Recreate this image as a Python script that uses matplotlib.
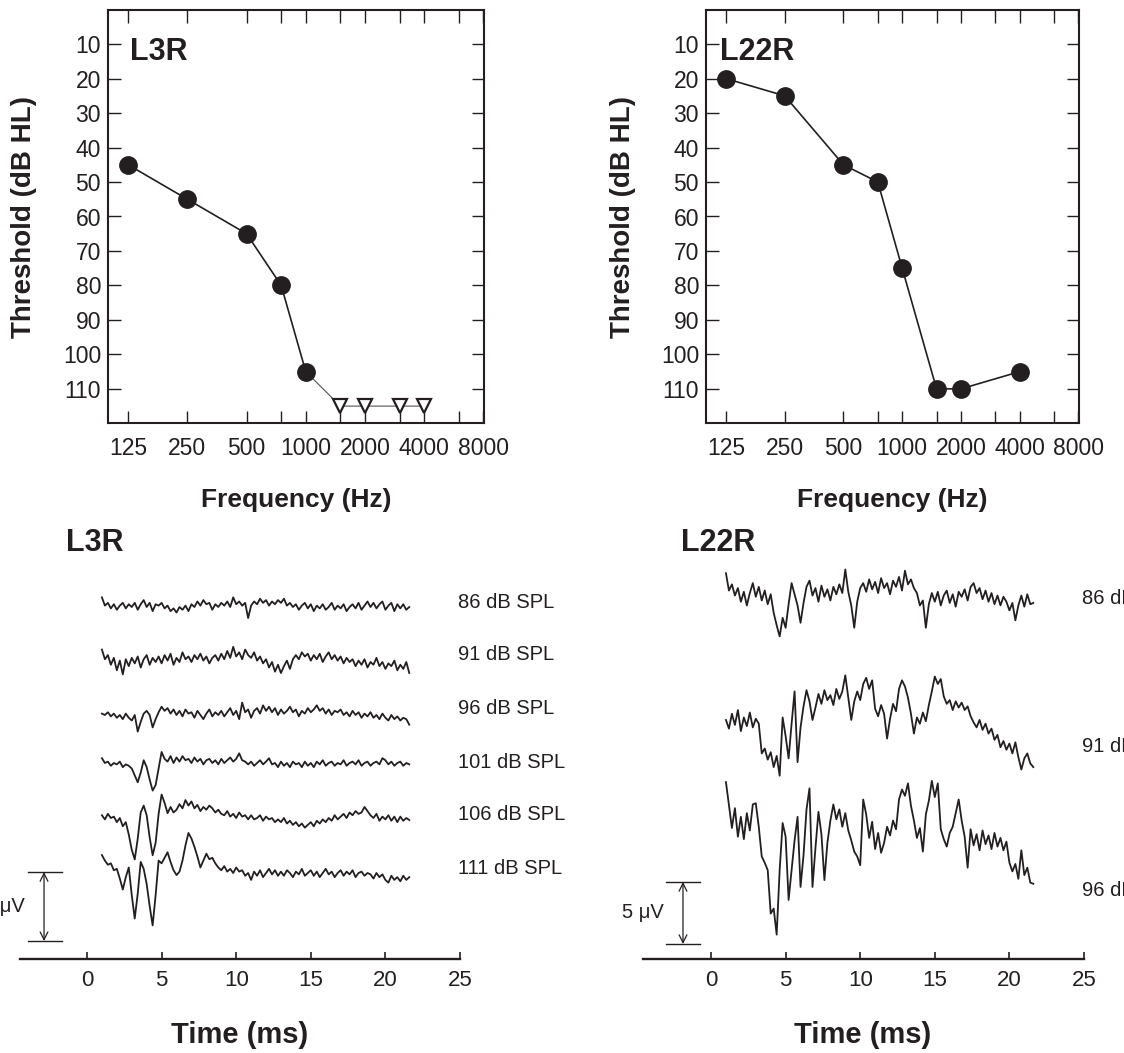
import numpy as np
import matplotlib
matplotlib.use("Agg")
import matplotlib.pyplot as plt
from matplotlib.ticker import FixedLocator, NullFormatter

plt.rcParams['font.family'] = ['Liberation Sans', 'DejaVu Sans']
INK = '#231f20'

# ---- audiogram data ----
freq_ticks = [125, 250, 500, 1000, 2000, 4000, 8000]
freq_minor = [750, 1500, 3000, 6000]
db_ticks = [10, 20, 30, 40, 50, 60, 70, 80, 90, 100, 110]

l3r_freq = [125, 250, 500, 750, 1000]
l3r_thr = [45, 55, 65, 80, 105]
l3r_nr_freq = [1500, 2000, 3000, 4000]   # no response at limit
l3r_nr_thr = [115, 115, 115, 115]

l22r_freq = [125, 250, 500, 750, 1000, 1500, 2000, 4000]
l22r_thr = [20, 25, 45, 50, 75, 110, 110, 105]

# ---- ABR traces (uV, 1.0 .. 21.6 ms, 0.2 ms steps) ----
l3r_labels = ['86 dB SPL', '91 dB SPL', '96 dB SPL', '101 dB SPL', '106 dB SPL', '111 dB SPL']
l3r_86 = [0.7, 0.1, 0.3, -0.1, 0.2, -0.2, 0.1, 0.3, -0.1, 0.2,
          0.0, 0.3, -0.2, 0.2, 0.5, 0.0, 0.3, -0.3, 0.2, 0.1,
          0.3, -0.1, 0.1, -0.3, -0.1, -0.4, 0.0, -0.2, 0.1, -0.3,
          0.2, 0.0, 0.4, 0.1, 0.5, 0.2, 0.3, -0.2, 0.2, 0.0,
          0.3, 0.1, 0.4, 0.0, 0.7, 0.2, 0.4, 0.1, 0.3, -0.8,
          0.1, 0.4, 0.2, 0.6, 0.3, 0.5, 0.1, 0.4, 0.2, 0.5,
          0.3, 0.6, 0.1, 0.3, 0.0, 0.2, -0.2, 0.1, 0.3, -0.1,
          0.2, -0.3, 0.1, -0.1, 0.2, -0.2, 0.0, 0.3, -0.2, 0.1,
          -0.1, 0.2, -0.3, 0.0, 0.2, -0.1, 0.3, -0.2, 0.1, 0.4,
          0.0, 0.3, -0.1, 0.2, 0.4, -0.2, 0.1, 0.3, -0.3, 0.2,
          -0.1, 0.2, -0.2, 0.0]
l3r_91 = [0.9, 0.2, 0.5, -0.2, 0.3, -0.6, 0.1, -0.9, 0.2, -0.3,
          0.3, -0.1, 0.4, -0.4, 0.2, 0.5, -0.2, 0.3, 0.0, 0.4,
          -0.1, 0.5, 0.1, 0.6, -0.2, 0.3, 0.0, 0.7, 0.2, 0.4,
          0.0, 0.5, 0.2, 0.6, 0.1, 0.4, -0.1, 0.3, 0.5, 0.1,
          0.6, 0.2, 0.8, 0.3, 1.1, 0.4, 0.7, 0.2, 0.9, 0.5,
          0.3, 0.7, 0.1, 0.4, -0.1, 0.2, -0.4, 0.0, -0.7, -0.2,
          -0.8, -0.3, 0.1, -0.5, 0.2, 0.5, 0.2, 0.7, 0.4, 0.6,
          0.1, 0.5, 0.2, 0.6, 0.0, 0.4, 0.7, 0.2, 0.5, 0.1,
          0.4, -0.1, 0.3, 0.0, 0.2, -0.3, 0.1, -0.2, 0.2, -0.4,
          0.0, -0.2, 0.3, -0.3, 0.0, -0.5, -0.1, -0.3, 0.1, -0.6,
          -0.2, -0.5, 0.0, -0.8]
l3r_96 = [0.1, 0.0, 0.2, -0.1, 0.1, -0.2, 0.0, -0.3, 0.1, -0.2,
          -0.4, 0.0, -1.2, -0.5, 0.1, 0.3, 0.0, -0.9, -0.3, 0.2,
          0.6, 0.3, 0.5, 0.1, 0.4, 0.0, 0.3, -0.1, 0.4, 0.1,
          0.2, -0.2, 0.3, 0.0, -0.3, 0.1, 0.4, -0.1, 0.2, 0.0,
          0.3, -0.1, 0.2, 0.5, 0.0, 0.3, -0.3, 0.9, 0.2, 0.4,
          -0.2, 0.3, 0.5, 0.1, 0.7, 0.3, 0.6, 0.2, 0.5, 0.0,
          0.4, 0.1, 0.3, 0.6, 0.2, 0.4, -0.1, 0.3, 0.1, 0.5,
          0.2, 0.4, 0.7, 0.3, 0.5, 0.1, 0.4, 0.0, 0.3, 0.2,
          0.4, 0.0, 0.2, -0.1, 0.3, 0.0, 0.2, -0.2, 0.1, -0.1,
          0.2, -0.2, 0.0, -0.3, 0.1, -0.2, -0.4, 0.0, -0.3, -0.1,
          -0.4, -0.2, -0.3, -0.7]
l3r_101 = [0.35, 0.0, 0.1, -0.2, 0.0, -0.1, 0.1, -0.3, -0.1, -0.2,
           -0.4, -0.9, -1.4, -0.7, 0.2, -0.3, -1.2, -2.0, -1.6, -0.4,
           0.8, 0.3, 0.1, 0.5, 0.0, 0.4, 0.1, 0.5, 0.2, 0.3,
           0.0, 0.4, 0.1, 0.3, -0.1, 0.2, 0.3, 0.0, 0.2, -0.1,
           0.3, 0.0, 0.2, 0.4, 0.1, 0.3, 0.7, 0.2, 0.1, -0.1,
           0.1, -0.2, 0.0, 0.2, -0.1, 0.1, 0.35, -0.1, 0.0, -0.3,
           0.1, -0.2, 0.0, -0.3, 0.1, -0.1, 0.0, -0.3, 0.1, -0.2,
           0.0, -0.3, 0.1, -0.1, 0.2, -0.2, 0.0, 0.1, -0.2, 0.0,
           -0.1, 0.2, -0.2, 0.0, 0.1, -0.1, 0.2, -0.2, 0.0, 0.1,
           -0.2, 0.0, 0.1, -0.1, 0.35, 0.2, -0.1, 0.1, -0.2, 0.0,
           0.1, -0.2, 0.0, -0.1]
l3r_106 = [0.2, -0.1, 0.3, 0.0, 0.1, -0.3, 0.0, -0.6, -0.3, -1.2,
           -2.3, -3.0, -1.5, 0.4, 0.9, 0.2, -1.4, -2.7, -1.8, 0.3,
           1.7, 1.1, 0.35, 0.8, 0.4, 0.6, 1.0, 0.7, 1.3, 0.9,
           1.2, 0.7, 0.95, 0.5, 0.8, 0.6, 0.9, 0.7, 0.4, 0.6,
           0.3, 0.2, 0.5, 0.1, 0.3, 0.0, 0.4, 0.1, 0.2, -0.1,
           0.2, -0.1, 0.0, 0.2, -0.2, 0.1, -0.1, 0.0, -0.3, -0.1,
           -0.3, 0.0, -0.4, -0.2, -0.5, -0.3, -0.6, -0.4, -0.7, -0.5,
           -0.3, -0.6, -0.2, -0.4, -0.1, -0.3, 0.0, -0.2, 0.2, -0.1,
           0.1, 0.3, 0.0, 0.4, 0.2, 0.5, 0.3, 0.4, 0.8, 0.5,
           0.2, 0.0, 0.3, -0.2, 0.1, -0.1, 0.2, -0.2, 0.1, -0.3,
           0.1, -0.2, 0.0, -0.15]
l3r_111 = [1.3, 0.9, 0.6, 0.7, 0.2, 0.3, -0.4, -1.2, -0.3, 0.4,
           -1.6, -3.3, -1.5, 0.8, 0.3, -0.8, -2.4, -3.8, -1.6, 0.9,
           0.7, 1.1, 1.5, 0.8, 0.2, -0.15, 0.1, 0.9, 2.0, 2.9,
           2.5, 1.9, 1.2, 0.4, 0.9, 1.4, 1.0, 1.1, 0.7, 0.4,
           0.2, 0.5, 0.1, 0.3, 0.0, 0.4, 0.1, 0.2, -0.2, 0.0,
           -0.5, 0.1, -0.2, 0.2, -0.3, 0.0, 0.3, -0.1, 0.2, -0.2,
           0.1, -0.2, 0.2, 0.0, -0.3, 0.1, -0.1, 0.3, -0.2, 0.0,
           0.2, -0.2, 0.1, -0.3, 0.0, 0.3, -0.1, 0.1, -0.3, 0.0,
           0.2, -0.2, 0.1, -0.1, 0.2, -0.3, 0.0, 0.1, -0.2, 0.0,
           -0.1, -0.4, 0.0, -0.3, -0.1, -0.5, -0.7, -0.2, -0.5, -0.3,
           -0.6, -0.2, -0.5, -0.3]

l22r_labels = ['86 dB SPL', '91 dB SPL', '96 dB SPL']
l22r_86 = [2.0, 0.6, 1.1, 0.2, 0.8, -0.3, 0.5, -0.6, 0.4, 1.2,
           0.1, 0.9, -0.2, 0.6, -0.5, 0.3, -1.2, -2.2, -3.1, -1.6,
           -2.4, -0.5, 1.2, 0.3, -0.6, -2.0, -0.4, 0.9, 1.4, 0.2,
           0.8, -0.3, 1.0, 0.1, 0.7, -0.2, 0.9, 0.3, 1.1, 0.4,
           2.3, 0.5, -0.6, -2.4, -0.3, 0.8, 1.2, 0.5, 1.5, 0.7,
           1.3, 0.4, 1.6, 0.8, 1.2, 0.3, 1.4, 0.9, 1.7, 0.6,
           2.2, 1.1, 1.5, 0.8, 0.4, -0.6, -0.2, -2.4, -0.5, 0.4,
           -0.3, 0.5, -0.6, 0.2, 0.6, -0.4, 0.3, -0.7, 0.5, 0.1,
           0.7, -0.2, 0.9, 1.2, 0.4, 0.8, -0.1, 0.6, -0.3, 0.4,
           -0.5, 0.2, -0.6, 0.1, -0.3, -1.0, -0.4, -1.8, -0.6, 0.2,
           -0.7, 0.3, -0.5, -0.4]
l22r_91 = [2.1, 1.4, 2.6, 1.7, 2.9, 1.2, 2.3, 1.6, 2.7, 1.5,
           2.2, 1.8, -0.6, -0.2, -1.1, -0.5, -1.7, -0.8, -2.4, 2.3,
           0.8, -1.0, 1.8, 4.4, -1.3, 1.5, 3.2, 4.5, 3.6, 2.1,
           3.1, 4.2, 3.4, 4.5, 3.7, 4.1, 3.3, 4.6, 3.8, 4.4,
           5.7, 3.9, 2.1, 3.6, 4.4, 3.7, 5.0, 5.5, 4.6, 5.3,
           3.0, 2.4, 3.3, 2.6, 0.6, 2.2, 3.4, 2.8, 4.6, 5.3,
           4.8, 3.9, 2.6, 1.0, 2.3, 1.8, 2.7, 2.0, 3.3, 4.4,
           5.6, 5.0, 5.4, 4.0, 3.4, 3.7, 2.9, 3.6, 3.1, 3.5,
           2.9, 3.2, 2.4, 1.9, 1.5, 2.1, 1.3, 1.8, 1.0, 1.4,
           0.5, 0.9, -0.1, 0.4, -0.3, 0.2, -0.6, 0.3, -0.9, -1.9,
           -1.0, -0.6, -1.4, -1.7]
l22r_96 = [8.7, 6.85, 5.0, 6.6, 4.3, 5.9, 4.1, 6.2, 4.8, 6.9,
           7.0, 5.1, 2.7, 2.2, 1.6, -1.9, -1.5, -3.6, 1.6, 5.4,
           4.3, -0.8, 1.6, 4.0, 5.9, 0.25, 2.8, 6.5, 8.2, 0.25,
           3.4, 6.3, 4.5, 0.8, 3.8, 5.6, 6.9, 5.7, 6.5, 5.1,
           6.2, 4.8, 4.0, 3.1, 2.7, 2.0, 7.3, 6.1, 4.2, 5.5,
           3.3, 4.6, 3.0, 3.8, 5.1, 4.4, 5.6, 4.9, 7.3, 8.1,
           7.6, 8.6, 6.8, 5.6, 4.2, 5.0, 3.1, 6.1, 7.2, 8.8,
           7.5, 8.6, 4.9, 4.1, 3.5, 4.6, 5.1, 6.2, 7.3, 5.6,
           4.3, 1.8, 4.9, 3.6, 4.5, 3.2, 4.8, 3.7, 4.4, 3.3,
           4.6, 3.5, 4.2, 3.2, 3.9, 2.2, 1.5, 2.1, 0.9, 3.2,
           1.2, 1.8, 0.6, 0.5]

W, H = 1124, 1053
fig = plt.figure(figsize=(W / 100, H / 100), dpi=100)


def rect(x0, y0, x1, y1):
    # pixel box, origin top-left -> figure fraction
    return [x0 / W, 1 - y1 / H, (x1 - x0) / W, (y1 - y0) / H]


def ftext(x, y, s, **kw):
    fig.text(x / W, 1 - y / H, s, color=INK, **kw)


def audiogram(box, name, name_xy):
    ax = fig.add_axes(rect(*box))
    ax.set_xscale('log', base=2)
    ax.set_xlim(125 * 2 ** -0.34, 125 * 2 ** 6.01)
    ax.set_ylim(119.9, 0.1)
    ax.set_xticks(freq_ticks, labels=[str(f) for f in freq_ticks])
    ax.xaxis.set_minor_locator(FixedLocator(freq_minor))
    ax.xaxis.set_minor_formatter(NullFormatter())
    ax.set_yticks(db_ticks)
    ax.tick_params(which='both', direction='in', top=True, right=True,
                   length=9, width=1.0, color=INK, labelsize=16.5, labelcolor=INK)
    ax.tick_params(axis='y', pad=5)
    ax.tick_params(axis='x', pad=10)
    for sp in ax.spines.values():
        sp.set_linewidth(1.5)
        sp.set_color(INK)
    ax.text(name_xy[0], name_xy[1], name, transform=ax.transAxes, fontsize=22,
            fontweight='bold', color=INK, va='center', ha='left')
    return ax


# top-left audiogram
ax1 = audiogram((108, 10, 484, 423), 'L3R', (0.058, 0.898))
ax1.plot([l3r_freq[-1]] + l3r_nr_freq, [l3r_thr[-1]] + l3r_nr_thr,
         color='#555555', lw=0.8, zorder=2)
ax1.plot(l3r_freq, l3r_thr, color=INK, lw=1.2, marker='o', ms=12.5, zorder=3)
ax1.plot(l3r_nr_freq, l3r_nr_thr, ls='none', marker='v', ms=9.5, mfc='white',
         mec=INK, mew=1.6, zorder=4)

# top-right audiogram
ax2 = audiogram((706, 10, 1079, 423), 'L22R', (0.038, 0.898))
ax2.plot(l22r_freq, l22r_thr, color=INK, lw=1.2, marker='o', ms=12.5, zorder=3)

for cx in (24, 623):
    ftext(cx, 217, 'Threshold (dB HL)', fontsize=20, fontweight='bold',
          rotation=90, ha='center', va='center')
for cx in (296, 892):
    ftext(cx, 500, 'Frequency (Hz)', fontsize=19, fontweight='bold',
          ha='center', va='center')


def abr(box, x_left, px_per_uv, traces, labels, base_px, label_px, bar):
    ax = fig.add_axes(rect(*box))
    y_top = (box[3] - box[1]) / px_per_uv
    ax.set_xlim(x_left, 25)
    ax.set_ylim(0, y_top)
    ax.patch.set_visible(False)
    for s in ('left', 'right', 'top'):
        ax.spines[s].set_visible(False)
    ax.spines['bottom'].set_linewidth(1.7)
    ax.spines['bottom'].set_color(INK)
    ax.set_yticks([])
    ax.set_xticks([0, 5, 10, 15, 20, 25])
    ax.tick_params(axis='x', direction='in', length=5, width=1.2, color=INK,
                   labelsize=16, labelcolor=INK, pad=8)
    for vals, b, lab, lp in zip(traces, base_px, labels, label_px):
        t = np.linspace(1.0, 21.6, len(vals))
        base = (box[3] - b) / px_per_uv
        ax.plot(t, base + np.array(vals), color=INK, lw=1.3, clip_on=False)
        ax.text(24.85, (box[3] - lp) / px_per_uv, lab, fontsize=14.5, color=INK,
                ha='left', va='center', clip_on=False)
    # 5 uV calibration bar
    x0, x1, xa, ylo, txt_x = bar
    yhi = ylo + 5
    ax.plot([x0, x1], [ylo, ylo], color=INK, lw=1.0, clip_on=False)
    ax.plot([x0, x1], [yhi, yhi], color=INK, lw=1.0, clip_on=False)
    ax.annotate('', xy=(xa, ylo), xytext=(xa, yhi),
                arrowprops=dict(arrowstyle='<->', color=INK, lw=0.9,
                                mutation_scale=14, shrinkA=0, shrinkB=0),
                annotation_clip=False)
    ax.text(txt_x, ylo + 2.5, '5 \u03bcV', fontsize=14.5, color=INK,
            ha='right', va='center', clip_on=False)
    return ax


ax3 = abr((20, 560, 460, 959), -4.49, 13.8,
          [l3r_86, l3r_91, l3r_96, l3r_101, l3r_106, l3r_111], l3r_labels,
          [607, 662, 715, 763, 818, 873], [602, 655, 708, 762, 815, 869],
          (-3.95, -1.68, -2.88, 1.30, -4.16))
ax4 = abr((643, 560, 1084, 959), -4.56, 12.4,
          [l22r_86, l22r_91, l22r_96], l22r_labels,
          [598, 746, 890], [599, 746, 890],
          (-3.02, -0.74, -1.88, 1.21, -3.15))

ftext(66, 543, 'L3R', fontsize=22, fontweight='bold', ha='left', va='center')
ftext(681, 543, 'L22R', fontsize=22, fontweight='bold', ha='left', va='center')
ftext(240, 1035, 'Time (ms)', fontsize=21, fontweight='bold', ha='center', va='center')
ftext(863, 1035, 'Time (ms)', fontsize=21, fontweight='bold', ha='center', va='center')

fig.savefig('out.png', dpi=100)
